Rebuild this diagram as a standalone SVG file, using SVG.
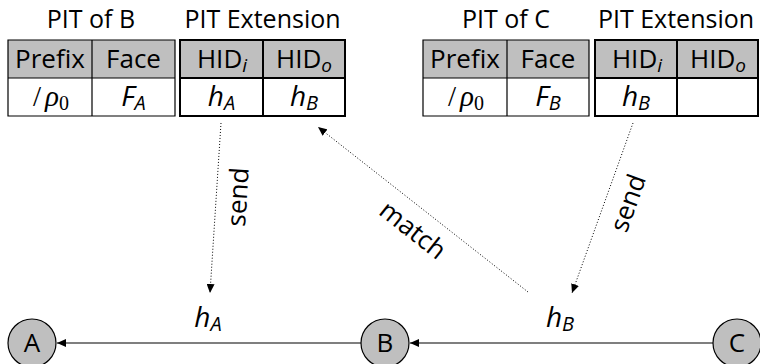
<svg xmlns="http://www.w3.org/2000/svg" width="760" height="364" viewBox="0 0 760 364">
<style>
.t{font-family:"Open Sans","DejaVu Sans",sans-serif;font-size:26px;fill:#000;text-anchor:middle}
.ttl{font-size:25px}
.m{font-family:"Open Sans","DejaVu Sans",sans-serif;font-style:italic;font-size:28px;fill:#000;text-anchor:middle}
.sub{font-size:20px}
.subi{font-size:19px;font-style:italic}
.rho{font-family:"Liberation Serif","DejaVu Serif",serif;font-size:29px;fill:#000;text-anchor:middle}
.hdr{fill:#bfbfbf;stroke:none}
.grid{fill:none;stroke:#000;stroke-width:1.2}
.ext{fill:none;stroke:#000;stroke-width:2}
.node circle{fill:#bfbfbf;stroke:#000;stroke-width:1.2}
.edge{stroke:#000;stroke-width:1.2;fill:none}
.dot{stroke:#000;stroke-width:1;fill:none;stroke-dasharray:1 2}
</style>
<defs>
<marker id="ah" markerUnits="userSpaceOnUse" markerWidth="10" markerHeight="8" refX="9" refY="4" orient="auto">
<path d="M0,0 L9,4 L0,8 Z" fill="#000"/>
</marker>
</defs>

<g id="pitB">
<text class="t ttl" x="91" y="28">PIT of B</text>
<rect class="hdr" x="8" y="40" width="167" height="38"/>
<path class="grid" d="M8,40 H175 V116 H8 Z M8,78 H175 M92,40 V116"/>
<text class="t" x="50" y="68">Prefix</text>
<text class="t" x="133.5" y="68">Face</text>
<text class="rho" x="51" y="106"><tspan>/</tspan><tspan dx="4" font-style="italic">ρ</tspan><tspan font-size="20" dy="4">0</tspan></text>
<text class="m" x="133.5" y="106">F<tspan class="sub" dy="4">A</tspan></text>
</g>

<g id="extB">
<text class="t ttl" x="262.5" y="28">PIT Extension</text>
<rect class="hdr" x="180" y="40" width="165" height="38"/>
<path class="ext" d="M180,40 H345 V116 H180 Z M180,78 H345 M263,40 V116"/>
<text class="t" x="222" y="68">HID<tspan class="subi" dy="4">i</tspan></text>
<text class="t" x="304" y="68">HID<tspan class="subi" dy="4">o</tspan></text>
<text class="m" x="221.5" y="106">h<tspan class="sub" dy="4">A</tspan></text>
<text class="m" x="304" y="106">h<tspan class="sub" dy="4">B</tspan></text>
</g>

<g id="pitC">
<text class="t ttl" x="506" y="28">PIT of C</text>
<rect class="hdr" x="423" y="40" width="166" height="38"/>
<path class="grid" d="M423,40 H589 V116 H423 Z M423,78 H589 M507,40 V116"/>
<text class="t" x="465" y="68">Prefix</text>
<text class="t" x="548" y="68">Face</text>
<text class="rho" x="466" y="106"><tspan>/</tspan><tspan dx="4" font-style="italic">ρ</tspan><tspan font-size="20" dy="4">0</tspan></text>
<text class="m" x="548" y="106">F<tspan class="sub" dy="4">B</tspan></text>
</g>

<g id="extC">
<text class="t ttl" x="676" y="28">PIT Extension</text>
<rect class="hdr" x="595" y="40" width="163" height="38"/>
<path class="ext" d="M595,40 H758 V116 H595 Z M595,78 H758 M677,40 V116"/>
<text class="t" x="637" y="68">HID<tspan class="subi" dy="4">i</tspan></text>
<text class="t" x="718" y="68">HID<tspan class="subi" dy="4">o</tspan></text>
<text class="m" x="636" y="106">h<tspan class="sub" dy="4">B</tspan></text>
</g>

<g id="nodeA" class="node"><circle cx="32" cy="343" r="24"/><text class="t" x="32" y="352">A</text></g>
<g id="nodeB" class="node"><circle cx="385" cy="343" r="24"/><text class="t" x="385" y="352">B</text></g>
<g id="nodeC" class="node"><circle cx="737" cy="343" r="24"/><text class="t" x="737" y="352">C</text></g>

<g id="connectors">
<line class="edge" x1="361" y1="343" x2="57" y2="343" marker-end="url(#ah)"/>
<line class="edge" x1="713" y1="343" x2="410" y2="343" marker-end="url(#ah)"/>
<text class="m" x="208" y="327">h<tspan class="sub" dy="4">A</tspan></text>
<text class="m" x="560" y="327">h<tspan class="sub" dy="4">B</tspan></text>
<line class="dot" x1="221" y1="123" x2="210" y2="293" marker-end="url(#ah)"/>
<line class="dot" x1="633" y1="123" x2="572" y2="293" marker-end="url(#ah)"/>
<line class="dot" x1="528" y1="292" x2="318" y2="127" marker-end="url(#ah)"/>
<text class="t" transform="translate(238,197) rotate(-86.3)" y="9">send</text>
<text class="t" transform="translate(413,230) rotate(38.2)" y="9">match</text>
<text class="t" transform="translate(628,203) rotate(-70.3)" y="9">send</text>
</g>
</svg>
